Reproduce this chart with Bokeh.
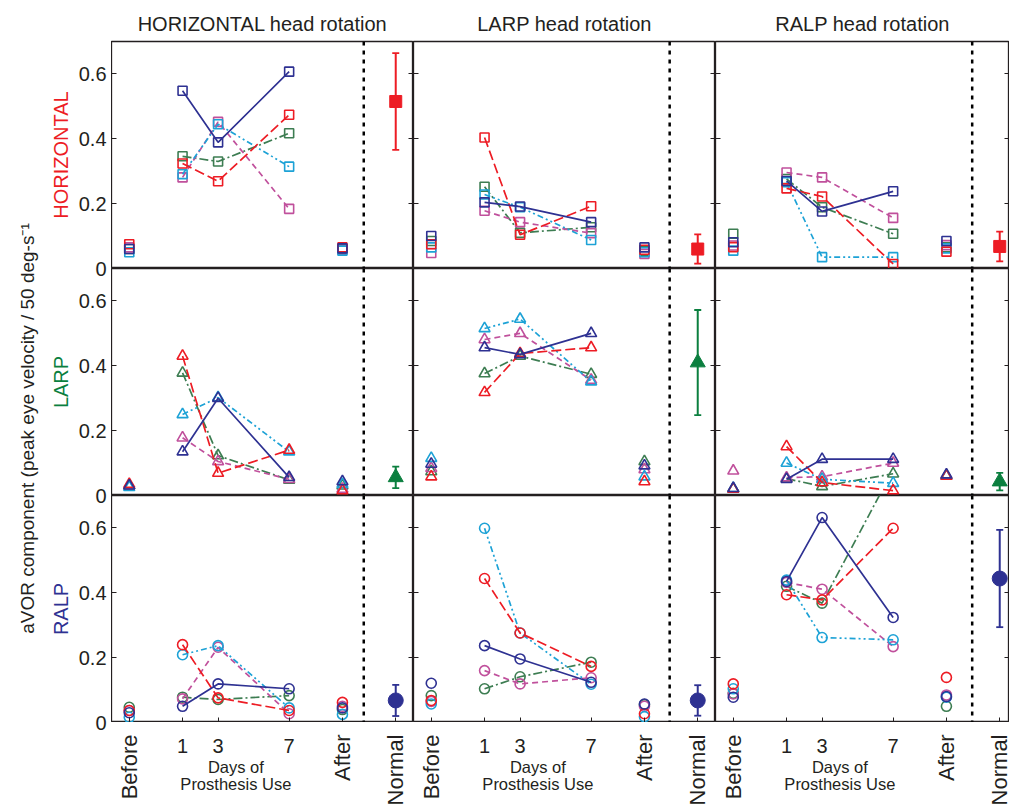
import math
from bokeh.plotting import figure
from bokeh.models import FixedTicker, LinearAxis, Span, Range1d
from bokeh.layouts import gridplot, row
from bokeh.core.properties import value
from bokeh.embed import file_html
from bokeh.resources import INLINE

# ---------------- data ----------------
head_rotations = ["HORIZONTAL head rotation", "LARP head rotation", "RALP head rotation"]
components = ["HORIZONTAL", "LARP", "RALP"]
time_points = ["Before", "1", "3", "7", "After"]
day_labels = ["1", "3", "7"]
axis_words = ["Before", "After", "Normal"]
days_caption = ["Days of", "Prosthesis Use"]
y_ticks = [0, 0.2, 0.4, 0.6]
y_tick_labels = ["0", "0.2", "0.4", "0.6"]
y_label = "aVOR component (peak eye velocity / 50 deg-s\u207b\u00b9"
subjects = ["S1", "S2", "S3", "S4", "S5"]

# values per subject at [Before, day 1, day 3, day 7, After]
# HORIZONTAL component
hor_hor = dict(S1=[0.060, 0.548, 0.389, 0.607, 0.062], S2=[0.075, 0.324, 0.269, 0.474, 0.065],
               S3=[0.060, 0.346, 0.330, 0.417, 0.060], S4=[0.050, 0.291, 0.445, 0.314, 0.055],
               S5=[0.065, 0.281, 0.452, 0.184, 0.058])
hor_larp = dict(S1=[0.100, 0.204, 0.191, 0.143, 0.065], S2=[0.075, 0.404, 0.104, 0.192, 0.058],
                S3=[0.085, 0.252, 0.110, 0.127, 0.055], S4=[0.065, 0.228, 0.189, 0.088, 0.050],
                S5=[0.048, 0.178, 0.143, 0.109, 0.045])
hor_ralp = dict(S1=[0.081, 0.270, 0.176, 0.238, 0.085], S2=[0.066, 0.247, 0.222, 0.014, 0.052],
                S3=[0.107, 0.276, 0.189, 0.107, 0.065], S4=[0.055, 0.266, 0.035, 0.035, 0.062],
                S5=[0.071, 0.296, 0.281, 0.156, 0.072])
# LARP component
larp_hor = dict(S1=[0.030, 0.135, 0.300, 0.056, 0.043], S2=[0.035, 0.430, 0.069, 0.140, 0.015],
                S3=[0.030, 0.378, 0.123, 0.048, 0.030], S4=[0.025, 0.250, 0.302, 0.135, 0.035],
                S5=[0.030, 0.178, 0.105, 0.050, 0.020])
larp_larp = dict(S1=[0.097, 0.456, 0.435, 0.500, 0.092], S2=[0.058, 0.318, 0.438, 0.456, 0.043],
                 S3=[0.074, 0.376, 0.430, 0.374, 0.105], S4=[0.115, 0.515, 0.544, 0.351, 0.058],
                 S5=[0.084, 0.481, 0.500, 0.356, 0.080])
larp_ralp = dict(S1=[0.022, 0.050, 0.112, 0.112, 0.064], S2=[0.020, 0.151, 0.040, 0.015, 0.060],
                 S3=[0.020, 0.052, 0.028, 0.067, 0.060], S4=[0.022, 0.100, 0.050, 0.038, 0.060],
                 S5=[0.076, 0.055, 0.058, 0.100, 0.062])
# RALP component
ralp_hor = dict(S1=[0.030, 0.050, 0.119, 0.104, 0.045], S2=[0.037, 0.240, 0.076, 0.037, 0.062],
                S3=[0.047, 0.078, 0.071, 0.083, 0.040], S4=[0.016, 0.209, 0.237, 0.045, 0.025],
                S5=[0.037, 0.073, 0.232, 0.027, 0.050])
ralp_larp = dict(S1=[0.121, 0.237, 0.196, 0.124, 0.057], S2=[0.068, 0.444, 0.276, 0.173, 0.027],
                 S3=[0.083, 0.104, 0.141, 0.186, 0.055], S4=[0.057, 0.599, 0.276, 0.118, 0.018],
                 S5=[0.065, 0.160, 0.119, 0.138, 0.050])
ralp_ralp = dict(S1=[0.078, 0.435, 0.632, 0.324, 0.080], S2=[0.119, 0.394, 0.378, 0.599, 0.139],
                 S3=[0.090, 0.420, 0.368, 0.780, 0.050], S4=[0.104, 0.439, 0.262, 0.255, 0.078],
                 S5=[0.088, 0.432, 0.411, 0.234, 0.085])

# normal subjects: mean and SD, rows = component, cols = head rotation
normal_mean_hor = [0.515, 0.060, 0.068]
normal_mean_larp = [0.056, 0.410, 0.043]
normal_mean_ralp = [0.068, 0.068, 0.444]
normal_sd_hor = [0.149, 0.045, 0.046]
normal_sd_larp = [0.033, 0.162, 0.027]
normal_sd_ralp = [0.048, 0.047, 0.150]

panels = [[hor_hor, hor_larp, hor_ralp],
          [larp_hor, larp_larp, larp_ralp],
          [ralp_hor, ralp_larp, ralp_ralp]]
normal_mean = [normal_mean_hor, normal_mean_larp, normal_mean_ralp]
normal_sd = [normal_sd_hor, normal_sd_larp, normal_sd_ralp]

# ---------------- style ----------------
SUBJ_COLOR = {"S1": "#2E3192", "S2": "#ED1C24", "S3": "#3D7D52", "S4": "#1DA2D6", "S5": "#C0509C"}
SUBJ_DASH = {"S1": "solid", "S2": "10 4", "S3": "9 3 2 3", "S4": "6 3 2 3 2 3", "S5": "6 4"}
DRAW_ORDER = ["S3", "S5", "S4", "S2", "S1"]
ROW_COLOR = ["#ED1C24", "#0B7F3F", "#2E3192"]
ROW_MARKER = ["square", "triangle", "circle"]
ROW_MSIZE = [9, 11, 10]
NORMAL_MSIZE = [12, 15, 15]
X_POS = {"Before": -2, "1": 1, "3": 3, "7": 7, "After": 10, "Normal": 13}
X_END = [14, 14, 13.55]
FRAME_W = [302, 302, 294]
FRAME_H = 227
Y_MAX = 0.7
TOP_BORDER = 41
BOTTOM_STRIP = 82
LEFT_W = 111
TOTAL_H = TOP_BORDER + 3 * FRAME_H + BOTTOM_STRIP
DOTTED_X = [11.2, 11.42, 11.45]
FONT = "Liberation Sans"
INK = "#231F20"


def hidden_labels(ax):
    ax.major_label_text_font_size = "0px"
    ax.major_label_text_color = None
    ax.major_label_standoff = 0
    ax.axis_line_color = None
    ax.major_tick_in = 5
    ax.major_tick_out = 0
    ax.minor_tick_line_color = None
    ax.major_tick_line_color = INK


def make_panel(i, j):
    p = figure(frame_width=FRAME_W[j], frame_height=FRAME_H,
               x_range=Range1d(-3, X_END[j]), y_range=Range1d(0, Y_MAX),
               output_backend="svg", toolbar_location=None,
               min_border_left=0, min_border_right=0,
               min_border_top=TOP_BORDER if i == 0 else 0, min_border_bottom=0,
               x_axis_location="below" if i == 2 else None, y_axis_location="left",
               title=head_rotations[j] if i == 0 else None)
    p.xgrid.visible = False
    p.ygrid.visible = False
    p.outline_line_color = INK
    p.outline_line_width = 1.3
    if i == 0:
        p.title.align = "center"
        p.title.text_font = FONT
        p.title.text_font_size = "20px"
        p.title.text_font_style = "normal"
        p.title.text_color = INK
        p.title.standoff = 14

    ax = p.yaxis[0]
    ax.ticker = FixedTicker(ticks=y_ticks)
    hidden_labels(ax)
    rax = LinearAxis(ticker=FixedTicker(ticks=y_ticks))
    hidden_labels(rax)
    p.add_layout(rax, "right")
    if i == 2:
        bx = p.xaxis[0]
        bx.ticker = FixedTicker(ticks=[X_POS[k] for k in ["Before", "1", "3", "7", "After", "Normal"]])
        hidden_labels(bx)

    p.add_layout(Span(location=DOTTED_X[j], dimension="height", line_color="black",
                      line_width=2.5, line_dash="4 5"))

    data = panels[i][j]
    xs = [X_POS[t] for t in time_points]
    day_x = [X_POS[d] for d in day_labels]
    for s in DRAW_ORDER:
        vals = data[s]
        p.line(day_x, vals[1:4], line_color=SUBJ_COLOR[s], line_dash=SUBJ_DASH[s], line_width=1.7)
        p.scatter(xs, vals, marker=ROW_MARKER[i], size=ROW_MSIZE[i], fill_color=None,
                  line_color=SUBJ_COLOR[s], line_width=1.6)

    m = normal_mean[i][j]
    sd = normal_sd[i][j]
    nx = X_POS["Normal"]
    nc = ROW_COLOR[i]
    p.segment(x0=[nx], y0=[m - sd], x1=[nx], y1=[m + sd], line_color=nc, line_width=2)
    p.scatter([nx, nx], [m - sd, m + sd], marker="dash", size=7, line_color=nc, line_width=1.8)
    p.scatter([nx], [m], marker=ROW_MARKER[i], size=NORMAL_MSIZE[i], fill_color=nc, line_color=nc)
    return p


def make_strip(j, x_range):
    s = figure(frame_width=FRAME_W[j], frame_height=BOTTOM_STRIP, x_range=x_range,
               y_range=Range1d(BOTTOM_STRIP, 0), output_backend="svg", toolbar_location=None,
               min_border=0, x_axis_location=None, y_axis_location=None, title=None)
    s.outline_line_color = None
    s.grid.visible = False
    s.text(x=[X_POS[w] for w in axis_words], y=[12] * len(axis_words), text=axis_words,
           angle=math.pi / 2, text_align="right", text_baseline="middle",
           text_font=value(FONT), text_font_size="22px", text_color=INK)
    s.text(x=[X_POS[d] for d in day_labels], y=[23] * len(day_labels), text=day_labels,
           text_align="center", text_baseline="middle",
           text_font=value(FONT), text_font_size="20px", text_color=INK)
    mid = (X_POS["1"] + X_POS["7"]) / 2
    s.text(x=[mid] * len(days_caption), y=[44, 61], text=days_caption,
           text_align="center", text_baseline="middle",
           text_font=value(FONT), text_font_size="16.5px", text_color=INK)
    return s


panel_rows = [[make_panel(i, j) for j in range(3)] for i in range(3)]
strips = [make_strip(j, panel_rows[2][j].x_range) for j in range(3)]
grid = gridplot(panel_rows + [strips], toolbar_location=None)

# left strip: global label, row labels and y tick labels (placed by the panels' y scale)
lab = figure(frame_width=LEFT_W, frame_height=TOTAL_H, x_range=Range1d(0, LEFT_W),
             y_range=Range1d(TOTAL_H, 0), output_backend="svg", toolbar_location=None,
             min_border=0, x_axis_location=None, y_axis_location=None, title=None)
lab.outline_line_color = None
lab.grid.visible = False

tick_y, tick_txt = [], []
for r in range(3):
    for t, lbl in zip(y_ticks, y_tick_labels):
        tick_y.append(TOP_BORDER + r * FRAME_H + (Y_MAX - t) / Y_MAX * FRAME_H)
        tick_txt.append(lbl)
lab.text(x=[LEFT_W - 5] * len(tick_y), y=tick_y, text=tick_txt, text_align="right",
         text_baseline="middle", text_font=value(FONT), text_font_size="20px", text_color=INK)
lab.text(x=[60] * 3, y=[TOP_BORDER + r * FRAME_H + FRAME_H / 2 for r in range(3)], text=components,
         angle=math.pi / 2, text_align="center", text_baseline="middle",
         text_font=value(FONT), text_font_size="20px", text_color=ROW_COLOR)
lab.text(x=[27], y=[428], text=[y_label], angle=math.pi / 2, text_align="center",
         text_baseline="middle", text_font=value(FONT), text_font_size="19px", text_color=INK)

layout = row(lab, grid)
open("out.html", "w").write(file_html(layout, INLINE))
